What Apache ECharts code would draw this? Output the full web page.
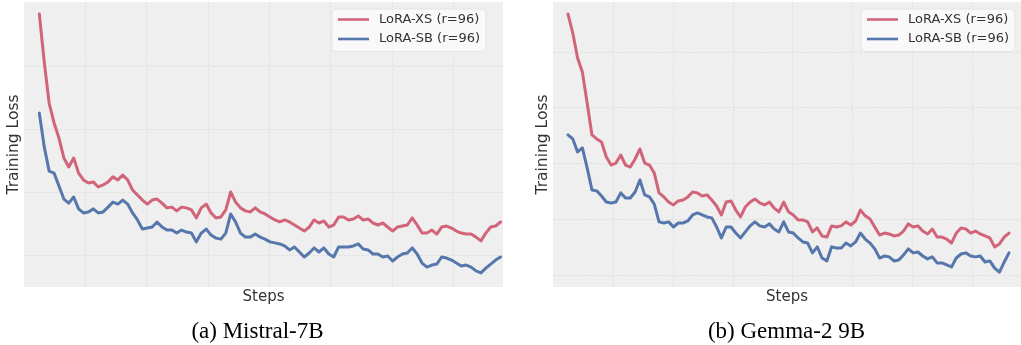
<!DOCTYPE html>
<html>
<head>
<meta charset="utf-8">
<script src="https://cdn.jsdelivr.net/npm/echarts@6/dist/echarts.min.js"></script>
<style>
  html, body { margin: 0; padding: 0; background: #ffffff; }
  #chart { width: 1021px; height: 345px; }
</style>
</head>
<body>
<div id="chart"></div>
<script>
// Training steps at which the smoothed loss was logged
const stepsMistral = [25,33,41,49,57,65,73,81,89,97,105,113,121,129,137,145,153,161,169,177,
  185,193,201,209,217,225,233,241,249,257,265,273,281,289,297,305,313,321,329,337,
  345,353,361,369,377,385,393,401,409,417,425,433,441,449,457,465,473,481,489,497,
  505,513,521,529,537,545,553,561,569,577,585,593,601,609,617,625,633,641,649,657,
  665,673,681,689,697,705,713,721,729,737,745,753,761,769,777];
const stepsGemma = [25,33,41,49,57,65,73,81,89,97,105,113,121,129,137,145,153,161,169,177,
  185,193,201,209,217,225,233,241,249,257,265,273,281,289,297,305,313,321,329,337,
  345,353,361,369,377,385,393,401,409,417,425,433,441,449,457,465,473,481,489,497,
  505,513,521,529,537,545,553,561,569,577,585,593,601,609,617,625,633,641,649,657,
  665,673,681,689,697,705,713,721,729,737,745,753,761];

// (a) Mistral-7B
const mistralXS = [1.206,1.016,0.853,0.774,0.714,0.635,0.599,0.635,0.575,0.548,
  0.536,0.540,0.520,0.528,0.540,0.560,0.548,0.567,0.548,0.508,
  0.488,0.468,0.452,0.468,0.472,0.456,0.437,0.440,0.425,0.440,
  0.437,0.429,0.397,0.437,0.452,0.417,0.397,0.401,0.429,0.500,
  0.460,0.437,0.425,0.421,0.437,0.421,0.413,0.401,0.389,0.381,
  0.389,0.381,0.369,0.357,0.345,0.361,0.389,0.377,0.385,0.361,
  0.369,0.401,0.401,0.389,0.393,0.405,0.389,0.393,0.377,0.369,
  0.377,0.361,0.345,0.361,0.365,0.369,0.397,0.369,0.337,0.337,
  0.349,0.333,0.361,0.365,0.357,0.345,0.337,0.333,0.333,0.321,
  0.306,0.337,0.361,0.365,0.381];
const mistralSB = [0.813,0.679,0.583,0.575,0.524,0.472,0.456,0.480,0.433,0.417,
  0.421,0.433,0.417,0.421,0.440,0.460,0.452,0.468,0.452,0.417,
  0.389,0.353,0.357,0.361,0.381,0.361,0.349,0.349,0.337,0.349,
  0.341,0.337,0.302,0.337,0.353,0.329,0.317,0.313,0.337,0.413,
  0.381,0.337,0.321,0.321,0.333,0.321,0.313,0.302,0.298,0.294,
  0.286,0.270,0.282,0.262,0.242,0.258,0.278,0.262,0.278,0.254,
  0.242,0.282,0.282,0.282,0.286,0.294,0.274,0.270,0.254,0.254,
  0.242,0.246,0.226,0.242,0.254,0.258,0.278,0.254,0.218,0.202,
  0.210,0.214,0.242,0.238,0.230,0.218,0.206,0.210,0.202,0.187,
  0.179,0.198,0.214,0.230,0.242];

// (b) Gemma-2 9B
const gemmaXS = [1.420,1.335,1.223,1.160,1.021,0.878,0.860,0.846,0.779,0.743,
  0.752,0.788,0.743,0.734,0.770,0.815,0.752,0.743,0.707,0.618,
  0.600,0.577,0.564,0.582,0.586,0.600,0.622,0.618,0.604,0.609,
  0.586,0.559,0.519,0.577,0.582,0.541,0.510,0.555,0.577,0.591,
  0.573,0.564,0.577,0.550,0.533,0.577,0.533,0.519,0.497,0.497,
  0.488,0.443,0.461,0.425,0.420,0.470,0.465,0.470,0.488,0.474,
  0.492,0.541,0.515,0.501,0.465,0.429,0.438,0.434,0.425,0.429,
  0.447,0.479,0.465,0.470,0.447,0.434,0.456,0.420,0.420,0.411,
  0.393,0.438,0.461,0.456,0.438,0.447,0.434,0.425,0.416,0.376,
  0.389,0.420,0.438];
const gemmaSB = [0.878,0.860,0.802,0.820,0.730,0.631,0.627,0.604,0.577,0.573,
  0.577,0.618,0.595,0.595,0.622,0.676,0.609,0.600,0.568,0.488,
  0.483,0.488,0.465,0.483,0.483,0.492,0.519,0.528,0.519,0.510,
  0.506,0.465,0.416,0.465,0.465,0.438,0.416,0.443,0.470,0.488,
  0.470,0.465,0.479,0.456,0.443,0.488,0.443,0.438,0.416,0.398,
  0.393,0.349,0.376,0.326,0.313,0.376,0.371,0.371,0.393,0.380,
  0.398,0.438,0.411,0.393,0.367,0.326,0.335,0.331,0.313,0.317,
  0.340,0.367,0.349,0.353,0.335,0.322,0.331,0.304,0.304,0.295,
  0.286,0.326,0.344,0.349,0.335,0.331,0.335,0.308,0.313,0.281,
  0.263,0.308,0.349];

// Reference lines of the background grid
const gridSteps = [100, 200, 300, 400, 500, 600, 700];
const gridLossMistral = [0.25, 0.5, 0.75, 1.0];
const gridLossGemma = [0.25, 0.5, 0.75, 1.0, 1.25];

const NAME_XS = 'LoRA-XS (r=96)';
const NAME_SB = 'LoRA-SB (r=96)';
const COLOR_XS = '#d16479';
const COLOR_SB = '#5677ab';
const SANS = 'DejaVu Sans';

const zip = (xs, ys) => xs.map((x, i) => [x, ys[i]]);

function lossSeries(name, color, steps, values, idx) {
  return {
    name, type: 'line', xAxisIndex: idx, yAxisIndex: idx,
    data: zip(steps, values),
    showSymbol: false, symbol: 'none', z: 3,
    lineStyle: { width: 3, color, cap: 'round', join: 'round' },
    itemStyle: { color },
    emphasis: { disabled: true }
  };
}

// Dashed background grid, kept underneath the loss curves
function gridLines(idx, lossLevels) {
  return {
    type: 'line', xAxisIndex: idx, yAxisIndex: idx, data: [], z: 1, silent: true,
    markLine: {
      z: 1, silent: true, symbol: 'none', animation: false,
      label: { show: false },
      lineStyle: { type: [3, 1.5], color: '#dedede', width: 0.8 },
      emphasis: { disabled: true },
      data: gridSteps.map(s => ({ xAxis: s })).concat(lossLevels.map(v => ({ yAxis: v })))
    }
  };
}

function valueX(idx) {
  return {
    type: 'value', gridIndex: idx, min: 0, max: 781,
    name: 'Steps', nameLocation: 'middle', nameGap: 3,
    nameTextStyle: { fontFamily: SANS, fontSize: 15, color: '#333' },
    axisLine: { show: false }, axisTick: { show: false },
    axisLabel: { show: false }, splitLine: { show: false }
  };
}

function valueY(idx, min, max) {
  return {
    type: 'value', gridIndex: idx, min, max,
    name: 'Training Loss', nameLocation: 'middle', nameGap: 2,
    nameTextStyle: { fontFamily: SANS, fontSize: 15.5, color: '#333' },
    axisLine: { show: false }, axisTick: { show: false },
    axisLabel: { show: false }, splitLine: { show: false }
  };
}

function legendAt(left) {
  return {
    left, top: 9, orient: 'vertical',
    data: [NAME_XS, NAME_SB],
    icon: 'rect', itemWidth: 31, itemHeight: 2.6, itemGap: 4.5,
    padding: [3, 6, 5, 6],
    backgroundColor: 'rgba(250,250,250,0.85)',
    borderColor: '#e4e4e4', borderWidth: 1, borderRadius: 4,
    selectedMode: false,
    textStyle: { fontFamily: SANS, fontSize: 13, color: '#333', lineHeight: 15, padding: [0, 0, 0, 5] }
  };
}

function caption(text, center) {
  return {
    text, left: center, top: 320, textAlign: 'center', padding: 0,
    textStyle: { fontFamily: 'Liberation Serif', fontSize: 23, fontWeight: 'normal', color: '#000', lineHeight: 24 }
  };
}

const chart = echarts.init(document.getElementById('chart'), null, { renderer: 'canvas' });
chart.setOption({
  animation: false,
  backgroundColor: '#ffffff',
  title: [caption('(a) Mistral-7B', 257.5), caption('(b) Gemma-2 9B', 786.5)],
  legend: [legendAt(332), legendAt(861)],
  grid: [
    { left: 24, top: 2, width: 479, height: 285, show: true, backgroundColor: '#efefef', borderWidth: 0 },
    { left: 553, top: 2, width: 479, height: 285, show: true, backgroundColor: '#efefef', borderWidth: 0 }
  ],
  xAxis: [valueX(0), valueX(1)],
  yAxis: [valueY(0, 0.123, 1.254), valueY(1, 0.196, 1.474)],
  series: [
    gridLines(0, gridLossMistral),
    gridLines(1, gridLossGemma),
    lossSeries(NAME_XS, COLOR_XS, stepsMistral, mistralXS, 0),
    lossSeries(NAME_SB, COLOR_SB, stepsMistral, mistralSB, 0),
    lossSeries(NAME_XS, COLOR_XS, stepsGemma, gemmaXS, 1),
    lossSeries(NAME_SB, COLOR_SB, stepsGemma, gemmaSB, 1)
  ]
});
</script>
</body>
</html>
